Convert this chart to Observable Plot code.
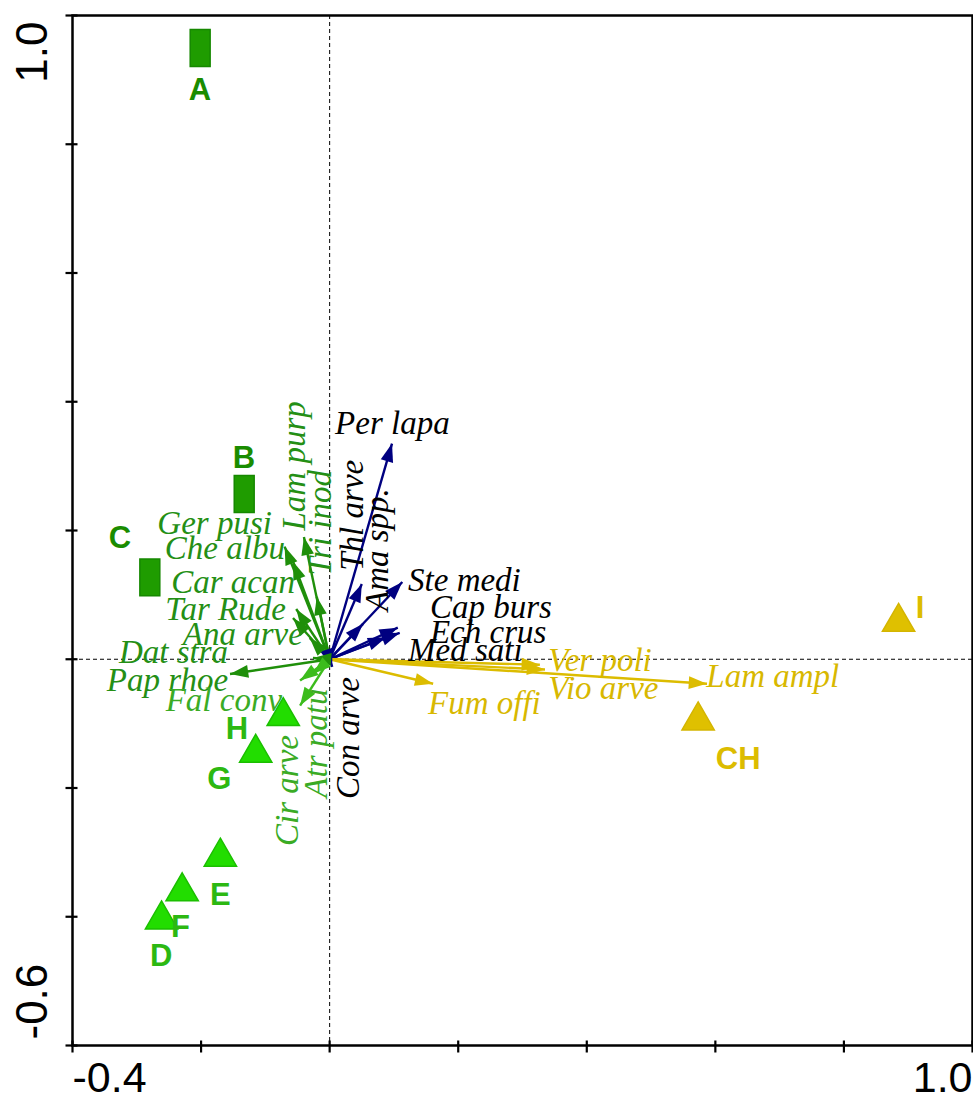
<!DOCTYPE html>
<html><head><meta charset="utf-8">
<script src="https://cdn.jsdelivr.net/npm/d3@7"></script>
<script src="https://cdn.jsdelivr.net/npm/@observablehq/plot@0.6"></script>
<style>html,body{margin:0;padding:0;background:#fff;overflow:hidden}</style>
</head><body><div id="chart"></div>
<script>
// ---- axes ----
const xTicks = [-0.4, -0.2, 0, 0.2, 0.4, 0.6, 0.8, 1.0];
const yTicks = [-0.6, -0.4, -0.2, 0, 0.2, 0.4, 0.6, 0.8, 1.0];
const xTickLabels = ["-0.4", "1.0"];   // shown at the two ends
const yTickLabels = ["-0.6", "1.0"];

// ---- species (arrows) ----
const speciesNames = ["Per lapa","Thl arve","Ama spp.","Ste medi","Cap burs","Ech crus","Med sati","Con arve",
  "Lam purp","Tri inod","Ger pusi","Che albu","Car acan","Tar Rude","Ana arve","Dat stra","Pap rhoe",
  "Fal conv","Atr patu","Cir arve","Ver poli","Vio arve","Lam ampl","Fum offi"];
const speciesX = [0.097, 0.050, 0.052, 0.113, 0.106, 0.109, 0.088, 0.004,
  -0.040, -0.020, -0.070, -0.057, -0.052, -0.057, -0.031, -0.026, -0.155,
  -0.046, -0.026, -0.046, 0.327, 0.335, 0.587, 0.161];
const speciesY = [0.335, 0.117, 0.055, 0.120, 0.049, 0.041, 0.034, -0.012,
  0.190, 0.097, 0.175, 0.152, 0.078, 0.064, 0.033, 0.002, -0.023,
  -0.033, -0.023, -0.072, -0.0085, -0.016, -0.038, -0.038];
const speciesGroup = ["blue","blue","blue","blue","blue","blue","blue","blue",
  "green","green","green","green","green","green","green","green","green",
  "light","light","light","yellow","yellow","yellow","yellow"];
// label anchor points (data units) and how the label runs from that point
const speciesLabelX = [0.0085, 0.036, 0.075, 0.122, 0.156, 0.156, 0.122, 0.0285,
  -0.054, -0.015, -0.0898, -0.0696, -0.054, -0.068, -0.0416, -0.158, -0.158,
  -0.074, -0.020, -0.065, 0.340, 0.340, 0.586, 0.153];
const speciesLabelY = [0.366, 0.1375, 0.075, 0.122, 0.080, 0.041, 0.013, -0.217,
  0.200, 0.130, 0.2106, 0.1717, 0.119, 0.078, 0.038, 0.010, -0.033,
  -0.0645, -0.215, -0.290, -0.002, -0.046, -0.026, -0.069];
const speciesLabelRun = ["right","up","up","right","right","right","right","up",
  "up","up","left","left","left","left","left","left","left",
  "left","up","up","right","right","right","right"];

// ---- samples (sites) ----
const siteNames = ["A","B","C","D","E","F","G","H","I","CH"];
const siteX = [-0.2014, -0.1329, -0.2797, -0.2615, -0.170, -0.2294, -0.115, -0.0722, 0.885, 0.5732];
const siteY = [0.9495, 0.2567, 0.1271, -0.4044, -0.307, -0.3608, -0.1455, -0.0886, 0.0578, -0.0953];
const siteGroup = ["g1","g1","g1","g2","g2","g2","g2","g2","g3","g3"];
const siteLabelX = [-0.2017, -0.1334, -0.3264, -0.2621, -0.170, -0.2322, -0.1715, -0.1442, 0.9183, 0.6355];
const siteLabelY = [0.8834, 0.3131, 0.188, -0.4612, -0.367, -0.4168, -0.1857, -0.1080, 0.079, -0.1546];

// ---- styles ----
const arrowColor = {blue: "#000080", green: "#1f8f0a", light: "#3cbc1c", yellow: "#dcbc00"};
const labelColor = {blue: "#000000", green: "#248f15", light: "#3aab25", yellow: "#d8b800"};
const siteFill = {g1: "#1f9c00", g2: "#22dd00", g3: "#dfc000"};
const siteStroke = {g1: "#168800", g2: "#1bbf00", g3: "#d4b500"};
const siteText = {g1: "#1a8c00", g2: "#2cb812", g3: "#dcbc00"};

const species = speciesNames.map((name, i) => ({
  name, x: speciesX[i], y: speciesY[i], group: speciesGroup[i],
  lx: speciesLabelX[i], ly: speciesLabelY[i], run: speciesLabelRun[i]
}));
const sites = siteNames.map((name, i) => ({
  name, x: siteX[i], y: siteY[i], group: siteGroup[i], lx: siteLabelX[i], ly: siteLabelY[i]
}));

// custom symbols
const arrowHead = {draw(ctx, size) { const s = Math.sqrt(size), w = s * 0.7;
  ctx.moveTo(0, 0); ctx.lineTo(-w / 2, s); ctx.lineTo(w / 2, s); ctx.closePath(); }};
const tallRect = {draw(ctx, size) { const w = Math.sqrt(size / 1.85), h = w * 1.85;
  ctx.rect(-w / 2, -h / 2, w, h); }};
const vTick = {draw(ctx) { ctx.moveTo(0, -5); ctx.lineTo(0, 7); }};
const hTick = {draw(ctx) { ctx.moveTo(-7, 0); ctx.lineTo(5, 0); }};

const serif = {fontFamily: "Liberation Serif, Times New Roman, serif", fontStyle: "italic", fontSize: 33};
const sans = {fontFamily: "Liberation Sans, Arial, sans-serif"};

const chart = Plot.plot({
  width: 973, height: 1101,
  marginLeft: 72, marginRight: 1, marginTop: 15, marginBottom: 56,
  x: {domain: [-0.4, 1.0], axis: null},
  y: {domain: [-0.6, 1.0], axis: null},
  style: {background: "white", overflow: "visible"},
  marks: [
    Plot.ruleX([0], {stroke: "black", strokeWidth: 1, strokeDasharray: "4,3"}),
    Plot.ruleY([0], {stroke: "black", strokeWidth: 1, strokeDasharray: "4,3"}),
    // arrow shafts
    Plot.link(species, {x1: () => 0, y1: () => 0, x2: "x", y2: "y",
      stroke: d => arrowColor[d.group], strokeWidth: 2.4}),
    // arrow heads
    Plot.dot(species, {x: "x", y: "y", symbol: arrowHead, r: 10.3,
      rotate: d => Math.atan2(d.x, d.y) * 180 / Math.PI,
      fill: d => arrowColor[d.group], stroke: "none"}),
    // species labels
    Plot.text(species.filter(d => d.run === "right"), {x: "lx", y: "ly", text: "name",
      textAnchor: "start", fill: d => labelColor[d.group], ...serif}),
    Plot.text(species.filter(d => d.run === "left"), {x: "lx", y: "ly", text: "name",
      textAnchor: "end", fill: d => labelColor[d.group], ...serif}),
    Plot.text(species.filter(d => d.run === "up"), {x: "lx", y: "ly", text: "name",
      textAnchor: "start", rotate: -90, fill: d => labelColor[d.group], ...serif}),
    // sites
    Plot.dot(sites.filter(d => d.group === "g1"), {x: "x", y: "y", symbol: tallRect, r: 15.3,
      fill: d => siteFill[d.group], stroke: d => siteStroke[d.group], strokeWidth: 1.5}),
    Plot.dot(sites.filter(d => d.group !== "g1"), {x: "x", y: "y", symbol: "triangle", r: 12,
      fill: d => siteFill[d.group], stroke: d => siteStroke[d.group], strokeWidth: 1.5}),
    Plot.text(sites, {x: "lx", y: "ly", text: "name", fill: d => siteText[d.group],
      fontWeight: "bold", fontSize: 31, ...sans}),
    // frame, ticks and tick labels
    Plot.frame({stroke: "black", strokeWidth: 2.5}),
    Plot.dot(xTicks, {x: d => d, frameAnchor: "bottom", symbol: vTick, r: 5,
      fill: "none", stroke: "black", strokeWidth: 2.2}),
    Plot.dot(yTicks, {y: d => d, frameAnchor: "left", symbol: hTick, r: 5,
      fill: "none", stroke: "black", strokeWidth: 2.2}),
    Plot.text([xTicks[0]], {x: d => d, text: () => xTickLabels[0], frameAnchor: "bottom",
      dy: 46, textAnchor: "start", fontSize: 43, fill: "black", ...sans}),
    Plot.text([xTicks[xTicks.length - 1]], {x: d => d, text: () => xTickLabels[1], frameAnchor: "bottom",
      dy: 46, textAnchor: "end", fontSize: 43, fill: "black", ...sans}),
    Plot.text([yTicks[0]], {y: d => d, text: () => yTickLabels[0], frameAnchor: "left",
      dx: -40, dy: -6, rotate: -90, textAnchor: "start", fontSize: 44, fill: "black", ...sans}),
    Plot.text([yTicks[yTicks.length - 1]], {y: d => d, text: () => yTickLabels[1], frameAnchor: "left",
      dx: -40, dy: 6, rotate: -90, textAnchor: "end", fontSize: 44, fill: "black", ...sans})
  ]
});
document.getElementById("chart").appendChild(chart);
</script>
</body></html>
